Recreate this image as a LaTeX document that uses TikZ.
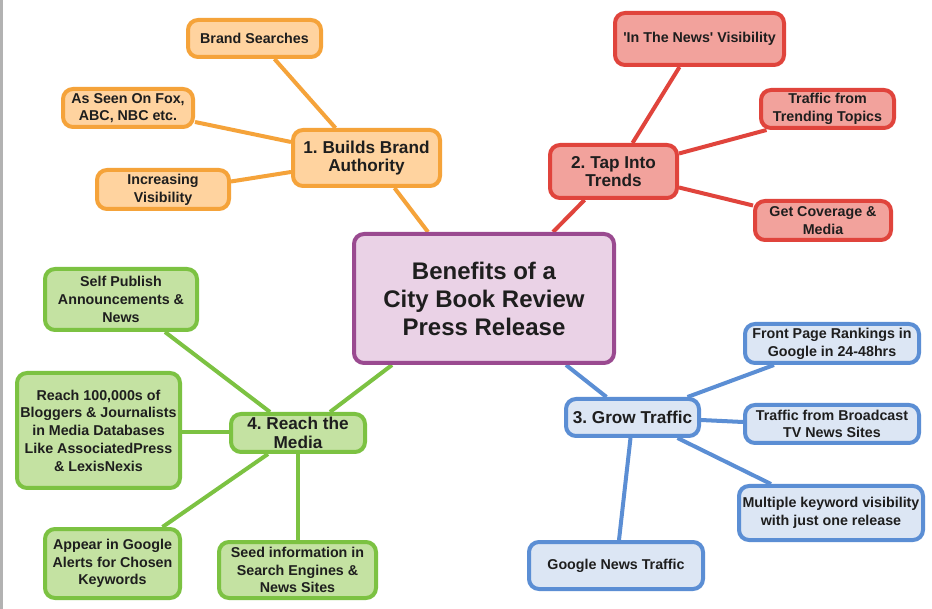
\documentclass[tikz,border=0pt]{standalone}
\usepackage{fontspec}
\setmainfont{Liberation Sans}
\usetikzlibrary{calc,backgrounds}
\frenchspacing

\definecolor{arancio}{HTML}{F5A33A}
\definecolor{arancioch}{HTML}{FFD39F}
\definecolor{rosso}{HTML}{E0443C}
\definecolor{rossoch}{HTML}{F2A29C}
\definecolor{blu}{HTML}{5B8ED4}
\definecolor{bluch}{HTML}{DCE6F4}
\definecolor{verde}{HTML}{7CC242}
\definecolor{verdech}{HTML}{C4E2A2}
\definecolor{viola}{HTML}{9A4A90}
\definecolor{violach}{HTML}{EAD2E6}
\definecolor{testo}{HTML}{1E1E1E}

\tikzset{
  box/.style={draw, rounded corners=7.5pt, line width=3pt, align=center,
    inner sep=0pt, text=testo, font=\bfseries\fontsize{10.7}{13.3}\selectfont},
  titolo/.style={font=\bfseries\fontsize{12.9}{14}\selectfont},
  misura/.style 2 args={minimum width={(#1-4)*0.75pt}, minimum height={(#2-4)*0.75pt}},
  boxar/.style={box, draw=arancio, fill=arancioch},
  boxro/.style={box, draw=rosso, fill=rossoch},
  boxbl/.style={box, draw=blu, fill=bluch},
  boxve/.style={box, draw=verde, fill=verdech},
  linkar/.style={draw=arancio, line width=3pt},
  linkro/.style={draw=rosso, line width=3pt},
  linkbl/.style={draw=blu, line width=3pt},
  linkve/.style={draw=verde, line width=3pt}
}

\begin{document}
\begin{tikzpicture}[x=0.75pt, y=-0.75pt]
        \useasboundingbox (0,0) rectangle (932,609);
        % Nodo centrale
        \node[box, draw=viola, fill=violach, misura={264}{133},
          font=\bfseries\fontsize{18}{21}\selectfont] (centro) at (484,298.5)
          {Benefits of a\\City Book Review\\Press Release};
        % Ramo 1
        \node[boxar, titolo, misura={151}{60}] (brandauth) at (366.5,158) {1. Builds Brand\\Authority};
        \node[boxar, misura={137}{41}] (brandsearch) at (254.5,38.5) {Brand Searches};
        \node[boxar, misura={134}{42}] (asseen) at (128,108) {As Seen On Fox,\\ABC, NBC etc.};
        \node[boxar, misura={136}{43}] (increasing) at (163,189.5) {Increasing\\Visibility};
        % Ramo 2
        \node[boxro, titolo, misura={131}{57}] (trends) at (613.5,171.5) {2. Tap Into\\Trends};
        \node[boxro, misura={173}{56}] (innews) at (699.5,39) {\textquotesingle In The News\textquotesingle{} Visibility};
        \node[boxro, misura={137}{42}] (trending) at (827.5,109) {Traffic from\\Trending Topics};
        \node[boxro, misura={140}{43}] (coverage) at (823,220.5) {Get Coverage \&\\Media};
        % Ramo 3
        \node[boxbl, titolo, misura={137}{41}] (traffic) at (632.5,417.5) {3. Grow Traffic};
        \node[boxbl, misura={178}{43}] (frontpage) at (832,343.5) {Front Page Rankings in\\Google in 24-48hrs};
        \node[boxbl, misura={178}{42}] (broadcast) at (832,424) {Traffic from Broadcast\\TV News Sites};
        \node[boxbl, misura={188}{58}] (multiple) at (831,513) {Multiple keyword visibility\\with just one release};
        \node[boxbl, misura={178}{51}] (gnews) at (616,565.5) {Google News Traffic};
        % Ramo 4
        \node[boxve, titolo, misura={138}{42}] (media) at (298,433) {4. Reach the\\Media};
        \node[boxve, misura={156}{65}] (selfpub) at (121,299.5) {Self Publish\\Announcements \&\\News};
        \node[boxve, misura={167}{119}] (reach) at (98.5,430.5)
          {Reach 100,000s of\\Bloggers \& Journalists\\in Media Databases\\Like AssociatedPress\\\& LexisNexis};
        \node[boxve, misura={139}{73}] (alerts) at (112.5,563.5) {Appear in Google\\Alerts for Chosen\\Keywords};
        \node[boxve, misura={161}{60}] (seed) at (297.5,570) {Seed information in\\Search Engines \&\\News Sites};
        % Collegamenti
        \begin{scope}[on background layer]
          \fill[white] (0,0) rectangle (932,609);
          \draw[gray!60, line width=1.5pt] (1.5,0) -- (1.5,609);
          \draw[linkar] ($(brandsearch.south)+(20,0)$) -- ($(brandauth.north)+(-31,0)$);
          \draw[linkar] ($(asseen.east)+(0,14)$) -- ($(brandauth.west)+(0,-16)$);
          \draw[linkar] ($(increasing.east)+(0,-8)$) -- ($(brandauth.west)+(0,14)$);
          \draw[linkar] ($(brandauth.south)+(28,0)$) -- ($(centro.north)+(-56,0)$);
          \draw[linkro] ($(innews.south)+(-20,0)$) -- ($(trends.north)+(19,0)$);
          \draw[linkro] ($(trending.south)+(-61,0)$) -- ($(trends.east)+(0,-18)$);
          \draw[linkro] ($(coverage.west)+(0,-15)$) -- ($(trends.east)+(0,16)$);
          \draw[linkro] ($(trends.south)+(-29,0)$) -- ($(centro.north)+(69,0)$);
          \draw[linkbl] ($(centro.south)+(82,0)$) -- ($(traffic.north)+(-26,0)$);
          \draw[linkbl] ($(frontpage.south)+(-58,0)$) -- ($(traffic.north)+(55,0)$);
          \draw[linkbl] ($(broadcast.west)+(0,-2)$) -- ($(traffic.east)+(0,2.5)$);
          \draw[linkbl] ($(multiple.north)+(-60,0)$) -- ($(traffic.south)+(45,0)$);
          \draw[linkbl] ($(gnews.north)+(3,0)$) -- ($(traffic.south)+(-2,0)$);
          \draw[linkve] ($(centro.south)+(-92,0)$) -- ($(media.north)+(32,0)$);
          \draw[linkve] ($(selfpub.south)+(44,0)$) -- ($(media.north)+(-28,0)$);
          \draw[linkve] ($(reach.east)+(0,1.5)$) -- ($(media.west)+(0,-1)$);
          \draw[linkve] ($(alerts.north)+(50,0)$) -- ($(media.south)+(-30,0)$);
          \draw[linkve] (seed.north) -- (seed.north |- media.south);
        \end{scope}
    \end{tikzpicture}
\end{document}
